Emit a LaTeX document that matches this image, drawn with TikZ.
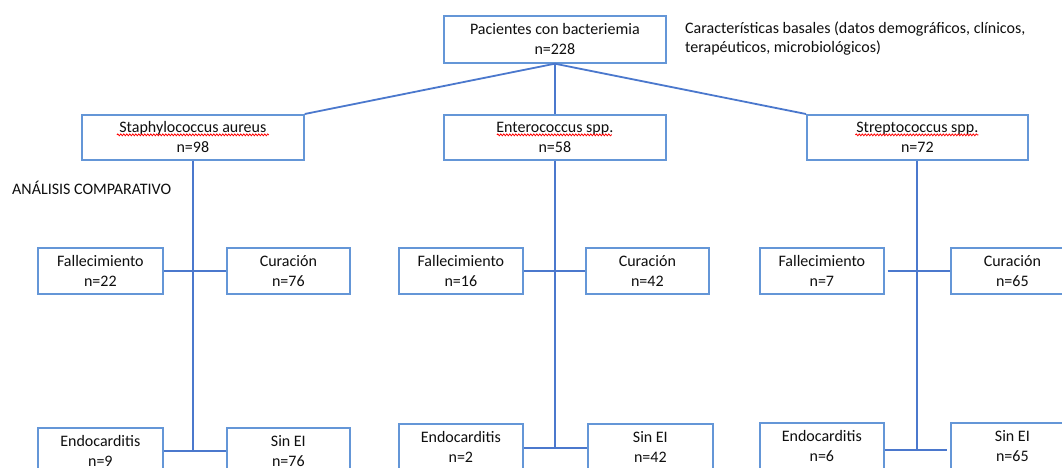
\documentclass[tikz,border=0pt]{standalone}
\usepackage{fontspec}
\setmainfont{Carlito}
\usetikzlibrary{decorations.pathmorphing}
\definecolor{boxblue}{RGB}{100,150,215}
\definecolor{linkblue}{RGB}{75,120,205}
\definecolor{txt}{RGB}{15,15,15}
\begin{document}
\begin{tikzpicture}[x=1pt,y=-1pt,
  bx/.style={draw=boxblue, line width=1.7pt, fill=white, inner sep=0pt, align=center,
    anchor=north west, text=txt, font=\fontsize{16}{20}\selectfont},
  wide/.style={minimum width=222pt, minimum height=45pt},
  small/.style={minimum width=124pt, minimum height=46pt},
  link/.style={draw=linkblue, line width=1.8pt},
  squig/.style={draw=red, line width=0.8pt, decorate,
    decoration={snake, segment length=3pt, amplitude=0.9pt}},
  plain/.style={inner sep=0pt, text=txt, anchor=base west}]
\useasboundingbox (0,0) rectangle (1062,468);
\clip (0,0) rectangle (1062,468);
\fill[white] (0,0) rectangle (1062,468);

% top level
\node[bx, minimum width=222pt, minimum height=47pt] (root) at (443,15) {Pacientes con bacteriemia\\n=228};
\node[plain, font=\fontsize{16}{18.5}\selectfont] (note) at (685,34)
  {\begin{tabular}[t]{@{}l@{}}Características basales (datos demográficos, clínicos,\\terapéuticos, microbiológicos)\end{tabular}};

% species
\node[bx, wide] (staph) at (81,114) {Staphylococcus aureus\\n=98};
\node[bx, wide] (entero) at (443,114) {Enterococcus spp.\\n=58};
\node[bx, wide, minimum width=221pt] (strep) at (806,114) {Streptococcus spp.\\n=72};

\node[plain, font=\fontsize{16}{19}\selectfont] (analisis) at (12,194) {ANÁLISIS COMPARATIVO};

% outcome row
\node[bx, small, minimum width=125pt] (fallS) at (37,247) {Fallecimiento\\n=22};
\node[bx, small, minimum width=123pt] (curS) at (226,247) {Curación\\n=76};
\node[bx, small] (fallE) at (398,247) {Fallecimiento\\n=16};
\node[bx, small, minimum width=123pt] (curE) at (585,247) {Curación\\n=42};
\node[bx, small] (fallT) at (759,247) {Fallecimiento\\n=7};
\node[bx, small, minimum width=123pt] (curT) at (950,247) {Curación\\n=65};

% endocarditis row
\node[bx, small, minimum width=125pt] (endoS) at (37,427) {Endocarditis\\n=9};
\node[bx, small, minimum width=123pt] (sinS) at (226,427) {Sin EI\\n=76};
\node[bx, small] (endoE) at (398,423) {Endocarditis\\n=2};
\node[bx, small, minimum width=125pt] (sinE) at (587,423) {Sin EI\\n=42};
\node[bx, small] (endoT) at (759,422) {Endocarditis\\n=6};
\node[bx, small, minimum width=123pt] (sinT) at (950,422) {Sin EI\\n=65};

% spell-check squiggles
\draw[squig] ([xshift=-76pt,yshift=2.5pt]staph.center) -- ([xshift=76pt,yshift=2.5pt]staph.center);
\draw[squig] ([xshift=-58pt,yshift=2.5pt]entero.center) -- ([xshift=57pt,yshift=2.5pt]entero.center);
\draw[squig] ([xshift=-62pt,yshift=2.5pt]strep.center) -- ([xshift=61pt,yshift=2.5pt]strep.center);

% connectors from root
\draw[link] (root.south) -- (staph.north east);
\draw[link] (root.south) -- (entero.north);
\draw[link] (root.south) -- (strep.north west);

% staphylococcus branch
\coordinate (jS) at (staph.south |- endoS.east);
\draw[link] (staph.south) -- (jS);
\draw[link] (fallS.east) -- (curS.west);
\draw[link] (endoS.east) -- (sinS.west);

% enterococcus branch
\coordinate (jE) at ([yshift=-1pt]entero.south |- endoE.east);
\draw[link] (entero.south) -- (jE);
\draw[link] (fallE.east) -- (curE.west);
\draw[link] ([yshift=-1pt]endoE.east) -- ([yshift=-1pt]sinE.west);

% streptococcus branch
\coordinate (jT) at ([yshift=-4pt]strep.south |- endoT.east);
\draw[link] (strep.south) -- (jT);
\draw[link, shorten <=3pt] (fallT.east) -- (curT.west);
\draw[link, shorten >=3pt] ([yshift=-4pt]endoT.east) -- ([yshift=-4pt]sinT.west);
\end{tikzpicture}
\end{document}
